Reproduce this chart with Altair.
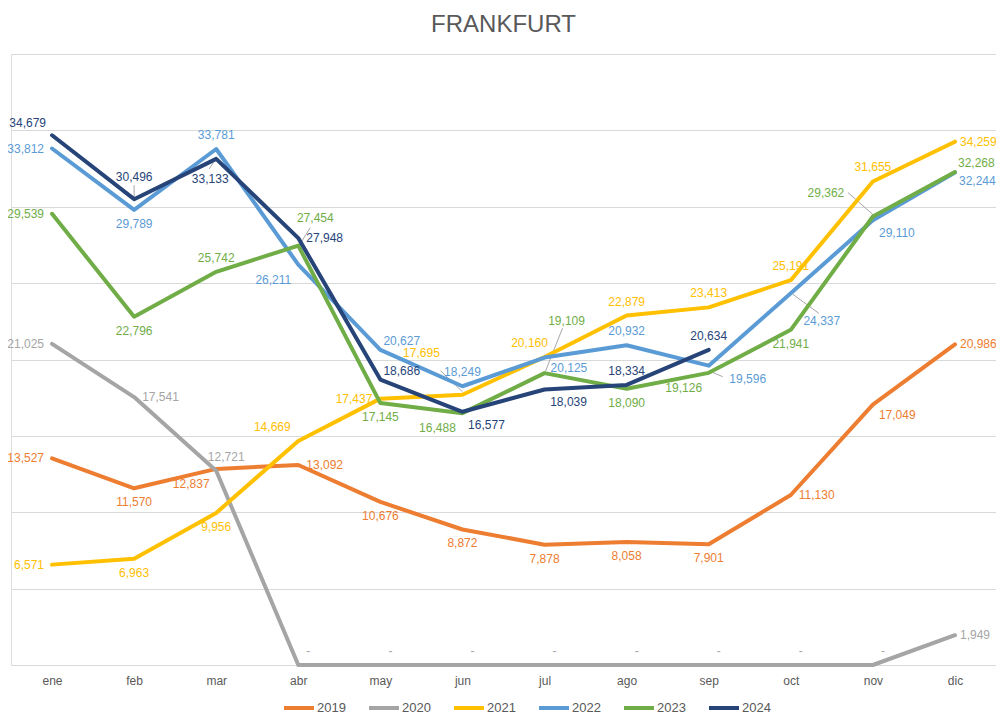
import altair as alt
import pandas as pd

months = ["ene", "feb", "mar", "abr", "may", "jun", "jul", "ago", "sep", "oct", "nov", "dic"]
years = ["2019", "2020", "2021", "2022", "2023", "2024"]
colors = ["#ED7D31", "#A5A5A5", "#FFC000", "#5B9BD5", "#70AD47", "#264478"]

v2019 = [13527, 11570, 12837, 13092, 10676, 8872, 7878, 8058, 7901, 11130, 17049, 20986]
v2020 = [21025, 17541, 12721, 0, 0, 0, 0, 0, 0, 0, 0, 1949]
v2021 = [6571, 6963, 9956, 14669, 17437, 17695, 20160, 22879, 23413, 25191, 31655, 34259]
v2022 = [33812, 29789, 33781, 26211, 20627, 18249, 20125, 20932, 19596, 24337, 29110, 32244]
v2023 = [29539, 22796, 25742, 27454, 17145, 16488, 19109, 18090, 19126, 21941, 29362, 32268]
v2024 = [34679, 30496, 33133, 27948, 18686, 16577, 18039, 18334, 20634]

# label placement codes (like Excel's data label positions)
p2019 = ["l", "b", "bl", "r", "b", "b", "b", "b", "b", "r", "rd", "re"]
p2020 = ["l", "r", "tr", "tr", "tr", "tr", "tr", "tr", "tr", "tr", "tr", "re"]
p2021 = ["l", "b", "b", "tll", "l", "ftl", "tl", "t", "t", "t", "t", "re"]
p2022 = ["l", "b", "t", "bl", "ru", "t", "rd", "t", "brr", "fbr", "br", "rde"]
p2023 = ["l", "b", "t", "ur", "b", "bl", "ftr", "b", "bl", "b", "fl", "ru"]
p2024 = ["lt", "t2", "b2", "r", "ru", "br", "br", "t", "t"]

POS = {
    "l": (-8, 0, "right"),
    "lt": (-6, -12, "right"),
    "r": (8, 0, "left"),
    "re": (5, 0, "left"),
    "ru": (3, -9, "left"),
    "rd": (6, 10, "left"),
    "rde": (4, 9, "left"),
    "t": (0, -14, "center"),
    "tr": (10, -14, "center"),
    "t2": (0, -22, "center"),
    "tl": (-15, -14, "center"),
    "tll": (-26, -14, "center"),
    "b": (0, 14, "center"),
    "b2": (-6, 20, "center"),
    "bl": (-25, 15, "center"),
    "br": (24, 13, "center"),
    "brr": (39, 13, "center"),
    "fbr": (31, 28, "center"),
    "ftl": (-41, -42, "center"),
    "ftr": (22, -52, "center"),
    "fl": (-47, -23, "center"),
    "ur": (17, -28, "center"),
}

# leader lines for labels placed away from their point: (x1, y1, x2, y2) pixel offsets
LEAD = {
    "ftl": (-22, -24, 0, -3),
    "ftr": (18, -45, 1, -2),
    "fl": (-25, -24, 0, -2),
    "ur": (12, -18, 2, -2),
    "fbr": (2, 1, 28, 20),
    "brr": (2, 6, 14, 11),
    "t2": (0, -14, 0, -2),
    "b2": (-3, 4, -7, 10),
}

rows = []
for yr, vals, poss in zip(years, [v2019, v2020, v2021, v2022, v2023, v2024],
                          [p2019, p2020, p2021, p2022, p2023, p2024]):
    for i, (v, p) in enumerate(zip(vals, poss)):
        rows.append({"year": yr, "month": months[i], "value": v, "pos": p,
                     "label": "-" if v == 0 else f"{v:,}"})
df = pd.DataFrame(rows)

color_scale = alt.Scale(domain=years, range=colors)
x_enc = alt.X("month:N", sort=months, scale=alt.Scale(type="point", padding=0.5),
              axis=alt.Axis(title=None, ticks=False, labelColor="#595959", labelFontSize=12,
                            labelFont="Liberation Sans", labelPadding=10, labelAngle=0,
                            domainColor="#D9D9D9", domainWidth=1, grid=False))
y_enc = alt.Y("value:Q", scale=alt.Scale(domain=[0, 40000], nice=False, zero=True),
              axis=alt.Axis(title=None, labels=False, ticks=False, domain=False,
                            values=list(range(0, 40001, 5000)), gridColor="#D9D9D9"))

base = alt.Chart(df)

lines = base.mark_line(strokeWidth=4, strokeJoin="round", strokeCap="round").encode(
    x=x_enc, y=y_enc,
    color=alt.Color("year:N", scale=color_scale,
                    legend=alt.Legend(title=None, orient="none", legendX=271, legendY=637,
                                      direction="horizontal", symbolType="stroke",
                                      symbolStrokeWidth=4, symbolSize=900,
                                      labelFontSize=13, labelColor="#595959",
                                      labelFont="Liberation Sans", labelOffset=1,
                                      columnPadding=15, padding=0)),
    detail="year:N",
)

lead_layers = []
for code, (x1, y1, x2, y2) in LEAD.items():
    lead_layers.append(
        base.transform_filter(alt.datum.pos == code).mark_rule(
            color="#A6A6A6", strokeWidth=1,
            xOffset=x1, yOffset=y1, x2Offset=x2, y2Offset=y2
        ).encode(x=x_enc, y=y_enc, x2=alt.X2("month:N"), y2=alt.Y2("value:Q"))
    )

text_layers = []
for code, (dx, dy, al) in POS.items():
    text_layers.append(
        base.transform_filter(alt.datum.pos == code).mark_text(
            dx=dx, dy=dy, align=al, baseline="middle", fontSize=12, font="Liberation Sans"
        ).encode(x=x_enc, y=y_enc, text="label:N",
                 color=alt.Color("year:N", scale=color_scale, legend=None))
    )

chart = alt.layer(*lead_layers, lines, *text_layers).properties(
    width=985, height=611,
    title=alt.TitleParams("FRANKFURT", fontSize=24, font="Liberation Sans",
                          fontWeight="normal", color="#595959", anchor="middle", offset=17),
    autosize=alt.AutoSizeParams(type="none"),
    padding={"left": 3, "top": 46, "right": 0, "bottom": 50},
).configure_view(stroke=None).configure(background="white")

chart.save("out.html", embed_options={"renderer": "svg", "actions": False})
